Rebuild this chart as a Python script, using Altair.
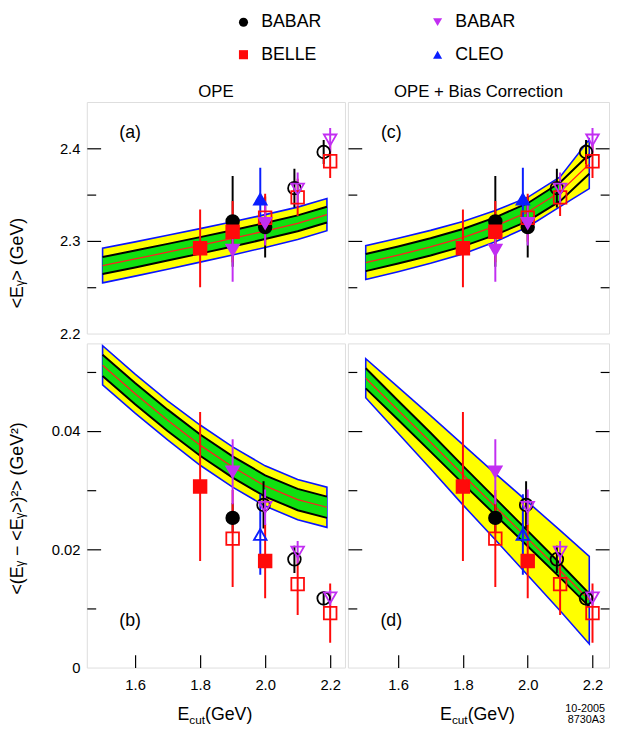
import altair as alt
import pandas as pd

FONT = "Liberation Sans"

# ---------------- experiments / legend ----------------
KEYS = ["BABAR_c", "BELLE", "BABAR_t", "CLEO"]
COLORS = ["#000000", "#FF0A0A", "#C22EF2", "#0A1EFF"]
SHAPES = ["circle", "square", "triangle-down", "triangle-up"]

# ---------------- theory bands ----------------
band_x = [1.5, 1.6, 1.7, 1.8, 1.9, 2.0, 2.1, 2.19]

a_center = [2.2734, 2.2805, 2.2878, 2.2952, 2.3028, 2.3107, 2.3190, 2.3284]
a_inner = [0.0092, 0.0091, 0.0090, 0.0089, 0.0088, 0.0087, 0.0086, 0.0085]
a_outer = [0.0187, 0.0185, 0.0183, 0.0181, 0.0179, 0.0177, 0.0175, 0.0173]

c_center = [2.2766, 2.2848, 2.2936, 2.3035, 2.3160, 2.3310, 2.3530, 2.3830]
c_inner = [0.0092, 0.0092, 0.0093, 0.0094, 0.0095, 0.0097, 0.0100, 0.0105]
c_outer = [0.0182, 0.0180, 0.0178, 0.0175, 0.0168, 0.0160, 0.0160, 0.0265]

b_center = [0.0511, 0.0463, 0.0418, 0.0376, 0.0339, 0.0307, 0.0284, 0.0271]
b_inner = [0.0018, 0.0018, 0.0018, 0.0018, 0.0018, 0.0018, 0.0018, 0.0018]
b_outer = [0.0033, 0.0033, 0.0033, 0.0034, 0.0034, 0.0034, 0.0034, 0.0034]

d_center = [0.0489, 0.0435, 0.0381, 0.0326, 0.0272, 0.0218, 0.0164, 0.0114]
d_inner = [0.0017, 0.0016, 0.0016, 0.0015, 0.0014, 0.0013, 0.0012, 0.0011]
d_outer = [0.0033, 0.0039, 0.0045, 0.0051, 0.0056, 0.0062, 0.0068, 0.0074]

# ---------------- measurements: <E_gamma> ----------------
mean_key = ["BABAR_c", "BABAR_c", "BABAR_c", "BABAR_c",
            "BELLE", "BELLE", "BELLE", "BELLE", "BELLE",
            "BABAR_t", "BABAR_t", "BABAR_t", "BABAR_t", "CLEO"]
mean_x = [1.9, 2.0, 2.09, 2.18, 1.8, 1.9, 2.0, 2.1, 2.2, 1.9, 2.0, 2.1, 2.2, 1.985]
mean_y = [2.321, 2.315, 2.357, 2.396, 2.292, 2.310, 2.325, 2.347, 2.386,
          2.290, 2.319, 2.356, 2.409, 2.345]
mean_err = [0.049, 0.033, 0.021, 0.013, 0.042, 0.033, 0.026, 0.020, 0.018,
            0.034, 0.024, 0.018, 0.013, 0.034]
mean_filled = [1, 1, 0, 0, 1, 1, 0, 0, 0, 1, 1, 0, 0, 1]

# ---------------- measurements: variance ----------------
var_key = mean_key
var_x = [1.9, 1.995, 2.09, 2.18, 1.8, 1.9, 2.0, 2.1, 2.2, 1.9, 2.0, 2.1, 2.2, 1.985]
var_y = [0.0253, 0.0275, 0.0183, 0.0117, 0.0306, 0.0218, 0.0180, 0.0141, 0.0092,
         0.0331, 0.0271, 0.0195, 0.0118, 0.0225]
var_err = [0.0025, 0.0040, 0.0023, 0.0012, 0.0126, 0.0082, 0.0063, 0.0052, 0.0050,
           0.0055, 0.0030, 0.0019, 0.0013, 0.0068]
var_filled = [1, 0, 0, 0, 1, 0, 1, 0, 0, 1, 0, 0, 0, 0]

x_ticks = [1.6, 1.8, 2.0, 2.2]
top_labels = [2.2, 2.3, 2.4]
top_ticks = [2.25, 2.3, 2.35, 2.4]
bot_labels = [0, 0.02, 0.04]
bot_ticks = [0.01, 0.02, 0.03, 0.04, 0.05]

W_L, W_R = 262, 265
H_T, H_B = 235, 329

HEX = dict(zip(KEYS, COLORS))


def band_df(center, inner, outer):
    df = pd.DataFrame({"x": band_x, "c": center, "hi": inner, "ho": outer})
    df["lo_in"] = df["c"] - df["hi"]
    df["hi_in"] = df["c"] + df["hi"]
    df["lo_out"] = df["c"] - df["ho"]
    df["hi_out"] = df["c"] + df["ho"]
    return df


def pts_df(key, x, y, err, filled):
    df = pd.DataFrame({"key": key, "x": x, "y": y, "err": err, "filled": filled})
    df["lo"] = df["y"] - df["err"]
    df["hi"] = df["y"] + df["err"]
    df["hex"] = df["key"].map(HEX)
    return df


cscale = alt.Scale(domain=KEYS, range=COLORS)
sscale = alt.Scale(domain=KEYS, range=SHAPES)
legend = alt.Legend(orient="none", legendX=150, legendY=-90, columns=2, title=None,
                    labelExpr="split(datum.label, '_')[0]", labelFontSize=18,
                    labelFont=FONT, labelColor="black", symbolSize=85, labelOffset=9,
                    columnPadding=108, rowPadding=15, symbolStrokeWidth=0,
                    symbolOpacity=1, padding=0)


def panel(bdf, pdf, xdom, ydom, w, h, side, row, label, title=None,
          green_end=2.19, ytitle=None, ty=0, extra=None):
    xs = alt.Scale(domain=xdom, nice=False, zero=False)
    ys = alt.Scale(domain=ydom, nice=False, zero=False)
    if row == "top":
        lab_vals, tick_vals = top_labels, top_ticks
        lab_expr = "format(datum.value, '.1f')"
        major = "abs(datum.value*10 - round(datum.value*10)) < 0.001"
    else:
        lab_vals, tick_vals = bot_labels, bot_ticks
        lab_expr = "datum.value == 0 ? '0' : format(datum.value, '.2f')"
        major = "round(datum.value*100) % 2 == 0"
    tsize = {"condition": {"test": major, "value": 14}, "value": 9}

    def yticks(orient):
        return alt.Axis(orient=orient, offset=-w, values=tick_vals, tickSize=tsize,
                        tickColor="black", tickWidth=1.2, labels=False, domain=False,
                        grid=False, title=None, minExtent=0)

    if side == "left":
        yax_main = alt.Axis(orient="left", values=lab_vals, labelExpr=lab_expr,
                            ticks=False, tickSize=0, domain=False, grid=False,
                            labelFontSize=15, labelFont=FONT, labelColor="black",
                            labelPadding=7, title=ytitle, titleFontSize=18,
                            titleFont=FONT, titleFontWeight="normal", titleColor="black",
                            titleX=-70, titleY=ty, titleAngle=270, titleAlign="center",
                            titleBaseline="middle")
        yax_tick = yticks("right")
    else:
        yax_main = yticks("right")
        yax_tick = yticks("left")

    if row == "bottom":
        xax_main = alt.Axis(orient="bottom", values=x_ticks, format=".1f", ticks=False,
                            tickSize=0, domain=False, grid=False, labelFontSize=15,
                            labelFont=FONT, labelColor="black", labelPadding=10,
                            title=None)
        xax_tick = alt.Axis(orient="top", offset=-h, values=x_ticks, tickSize=13,
                            tickColor="black", tickWidth=1.2, labels=False,
                            domain=False, grid=False, title=None)
    else:
        xax_main = None
        xax_tick = None

    X = lambda: alt.X("x:Q", scale=xs, axis=xax_main)
    Y = lambda f: alt.Y(f + ":Q", scale=ys, axis=yax_main)

    base = alt.Chart(bdf)
    yellow = base.mark_area(color="#FFFF00", stroke="#0A14FF", strokeWidth=1.6,
                            clip=True).encode(x=X(), y=Y("lo_out"), y2="hi_out")
    green = base.transform_filter(alt.datum.x <= green_end).mark_area(
        color="#10E010", clip=True).encode(x=X(), y=Y("lo_in"), y2="hi_in")
    blk1 = base.mark_line(color="black", strokeWidth=2, clip=True).encode(
        x=X(), y=Y("lo_in"))
    blk2 = base.mark_line(color="black", strokeWidth=2, clip=True).encode(
        x=X(), y=Y("hi_in"))
    red = base.mark_line(color="#FF2020", strokeWidth=1.3, clip=True).encode(
        x=X(), y=Y("c"))

    pbase = alt.Chart(pdf)
    rules = pbase.mark_rule(strokeWidth=2, clip=True).encode(
        x=X(), y=Y("lo"), y2="hi",
        stroke=alt.Stroke("hex:N", scale=None))
    points = pbase.mark_point(filled=True, size=165, strokeWidth=1.8, opacity=1,
                              clip=True).encode(
        x=X(), y=Y("y"),
        color=alt.Color("key:N", scale=cscale, legend=legend),
        shape=alt.Shape("key:N", scale=sscale, legend=legend),
        stroke=alt.Stroke("hex:N", scale=None),
        fillOpacity=alt.FillOpacity("filled:Q", scale=None))
    lab = alt.Chart(pd.DataFrame({"t": [label]})).mark_text(
        fontSize=18, font=FONT, color="black").encode(
        x=alt.value(44), y=alt.value(32 if row == "top" else h - 47), text="t:N")

    layers = [yellow, green, blk1, blk2, red, rules, points, lab]

    if row == "bottom":
        layers.append(alt.Chart(pd.DataFrame({"t": ["E"]})).mark_text(
            fontSize=18, font=FONT, color="black", align="right",
            baseline="alphabetic").encode(
            x=alt.value(w / 2 - 27), y=alt.value(h + 53), text="t:N"))
        layers.append(alt.Chart(pd.DataFrame({"t": ["cut"]})).mark_text(
            fontSize=12, font=FONT, color="black", align="left",
            baseline="alphabetic").encode(
            x=alt.value(w / 2 - 27), y=alt.value(h + 57), text="t:N"))
        layers.append(alt.Chart(pd.DataFrame({"t": ["(GeV)"]})).mark_text(
            fontSize=18, font=FONT, color="black", align="left",
            baseline="alphabetic").encode(
            x=alt.value(w / 2 - 11), y=alt.value(h + 53), text="t:N"))
    if extra is not None:
        for i, s in enumerate(extra):
            layers.append(alt.Chart(pd.DataFrame({"t": [s]})).mark_text(
                fontSize=11, font=FONT, color="black", align="right",
                baseline="alphabetic").encode(
                x=alt.value(w - 4), y=alt.value(h + 45 + 11 * i), text="t:N"))

    main = alt.layer(*layers)
    tick = alt.Chart(bdf).mark_point(opacity=0).encode(
        x=alt.X("x:Q", scale=xs, axis=xax_tick),
        y=alt.Y("c:Q", scale=ys, axis=yax_tick))
    ch = alt.layer(main, tick).resolve_axis(x="independent", y="independent")
    props = dict(width=w, height=h)
    if title is not None:
        props["title"] = alt.TitleParams(title, fontSize=17, font=FONT,
                                         fontWeight="normal", color="black",
                                         offset=1, anchor="middle")
    return ch.properties(**props)


pm = pts_df(mean_key, mean_x, mean_y, mean_err, mean_filled)
pv = pts_df(var_key, var_x, var_y, var_err, var_filled)

XL = [1.4515, 2.2455]
XR = [1.445, 2.251]
YT = [2.2, 2.45]
YB = [0.0, 0.0548]

pa = panel(band_df(a_center, a_inner, a_outer), pm, XL, YT, W_L, H_T, "left", "top",
           "(a)", title="OPE", ytitle="<E\u1d67> (GeV)", ty=163)
pc = panel(band_df(c_center, c_inner, c_outer), pm, XR, YT, W_R, H_T, "right", "top",
           "(c)", title="OPE + Bias Correction", green_end=2.1)
pb = panel(band_df(b_center, b_inner, b_outer), pv, XL, YB, W_L, H_B, "left", "bottom",
           "(b)", ytitle="<(E\u1d67 \u2212 <E\u1d67>)\u00b2> (GeV\u00b2)", ty=167)
pd_ = panel(band_df(d_center, d_inner, d_outer), pv, XR, YB, W_R, H_B, "right", "bottom",
            "(d)", extra=["10-2005", "8730A3"])

top = alt.hconcat(pa, pc, spacing=0)
bottom = alt.hconcat(pb, pd_, spacing=0)
chart = alt.vconcat(top, bottom, spacing=0).resolve_scale(
    color="shared", shape="shared"
).properties(
    padding={"left": 0, "top": 0, "right": 0, "bottom": 0}
).configure_view(
    stroke="black", strokeWidth=1.5
).configure(font=FONT)

chart.save("out.html", embed_options={"renderer": "svg", "actions": False})
